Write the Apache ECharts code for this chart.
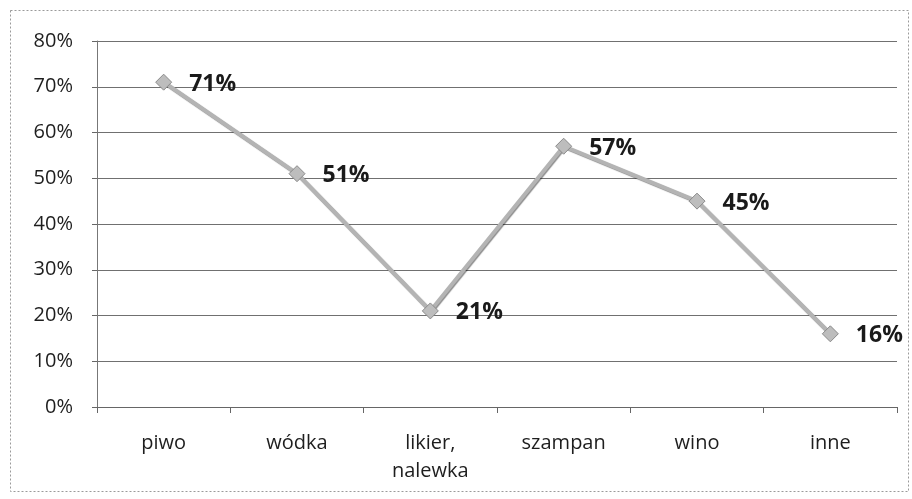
<!DOCTYPE html>
<html>
<head>
<meta charset="utf-8">
<script src="https://cdn.jsdelivr.net/npm/echarts@6/dist/echarts.min.js"></script>
<style>
  html, body { margin: 0; padding: 0; background: #fff; }
  #chart { width: 912px; height: 499px; }
</style>
</head>
<body>
<div id="chart"></div>
<script>
// Kategorie napojów i odsetek odpowiedzi
const categories = ['piwo', 'wódka', 'likier,\nnalewka', 'szampan', 'wino', 'inne'];
const values = [71, 51, 21, 57, 45, 16];
const yTicks = [0, 10, 20, 30, 40, 50, 60, 70, 80];

const chart = echarts.init(document.getElementById('chart'), null, { renderer: 'canvas' });

const font = '"Open Sans", "Noto Sans", sans-serif';

chart.setOption({
  animation: false,
  backgroundColor: '#ffffff',
  graphic: [{
    type: 'rect',
    shape: { x: 10.5, y: 10.5, width: 898, height: 481 },
    style: { fill: 'none', stroke: '#9a9a9a', lineWidth: 1, lineDash: [2, 2] },
    silent: true
  }],
  grid: { left: 97, right: 15, top: 41, bottom: 92, containLabel: false },
  xAxis: {
    type: 'category',
    data: categories,
    boundaryGap: true,
    axisLine: { show: true, lineStyle: { color: '#666', width: 1 } },
    axisTick: { show: true, alignWithLabel: false, length: 6, lineStyle: { color: '#666' } },
    axisLabel: {
      color: '#1e1e1e', fontFamily: font, fontSize: 20, margin: 22, lineHeight: 28, interval: 0
    },
    splitLine: { show: false }
  },
  yAxis: {
    type: 'value',
    min: yTicks[0],
    max: yTicks[yTicks.length - 1],
    interval: 10,
    axisLine: { show: true, lineStyle: { color: '#777', width: 1 } },
    axisTick: { show: true, length: 5, inside: false, lineStyle: { color: '#666' } },
    axisLabel: {
      color: '#1e1e1e', fontFamily: font, fontSize: 20, margin: 24,
      formatter: v => v + '%'
    },
    splitLine: { show: true, lineStyle: { color: '#707070', width: 1 } }
  },
  series: [{
    type: 'line',
    data: values,
    symbol: 'diamond',
    symbolSize: 16,
    lineStyle: { color: '#b4b4b4', width: 4, shadowColor: 'rgba(0,0,0,0.45)', shadowBlur: 1, shadowOffsetX: 1, shadowOffsetY: 1 },
    itemStyle: { color: '#bdbdbd', borderColor: '#8a8a8a', borderWidth: 1 },
    label: {
      show: true,
      position: 'right',
      distance: 17,
      offset: [0, 2],
      formatter: p => p.value + '%',
      color: '#1a1a1a',
      fontFamily: font,
      fontWeight: 'bold',
      fontSize: 23
    }
  }]
});
</script>
</body>
</html>
